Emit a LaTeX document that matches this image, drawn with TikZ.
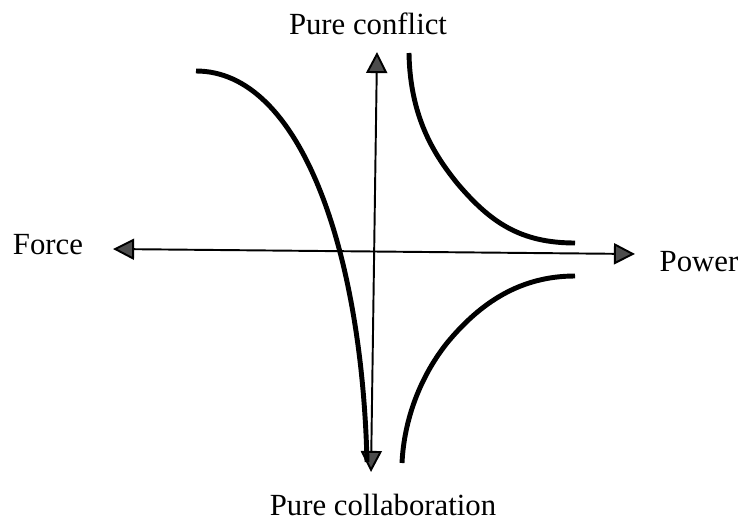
\documentclass[tikz,border=0pt]{standalone}
\usepackage{fontspec}
\setmainfont{Liberation Serif}
\usetikzlibrary{arrows.meta}
\tikzset{
  axis/.style={line width=1.1pt,
    {Triangle[length=12pt,width=12pt,fill=black!70]}-{Triangle[length=12pt,width=12pt,fill=black!70]}},
  curve/.style={line width=2.8pt},
  label/.style={font=\fontsize{17.5}{20}\selectfont,anchor=base,inner sep=0pt}
}
\begin{document}
\begin{tikzpicture}[line join=round]
  \useasboundingbox (0,0) rectangle (14.82,10.44);
  \coordinate (W) at (2.26,5.46);
  \coordinate (E) at (12.70,5.36);
  \coordinate (N) at (7.54,9.40);
  \coordinate (S) at (7.42,1.00);
  \draw[axis] (W) -- (E);
  \draw[axis] (S) -- (N);
  \draw[curve] (3.92,9.02) .. controls (6.00,9.02) and (7.24,5.44) .. (7.34,1.20);
  \draw[curve] (8.18,9.38) .. controls (8.20,8.04) and (8.74,7.28) .. (9.14,6.78)
    .. controls (9.80,6.00) and (10.40,5.58) .. (11.50,5.58);
  \draw[curve] (11.50,4.92) .. controls (10.40,4.92) and (9.60,4.38) .. (8.94,3.58)
    .. controls (8.40,2.90) and (8.08,2.04) .. (8.04,1.18);
  \node[label] (conflict) at (7.36,9.74) {Pure conflict};
  \node[label] (force) at (0.96,5.36) {Force};
  \node[label] (power) at (13.98,5.02) {Power};
  \node[label] (collab) at (7.66,0.14) {Pure collaboration};
\end{tikzpicture}
\end{document}
